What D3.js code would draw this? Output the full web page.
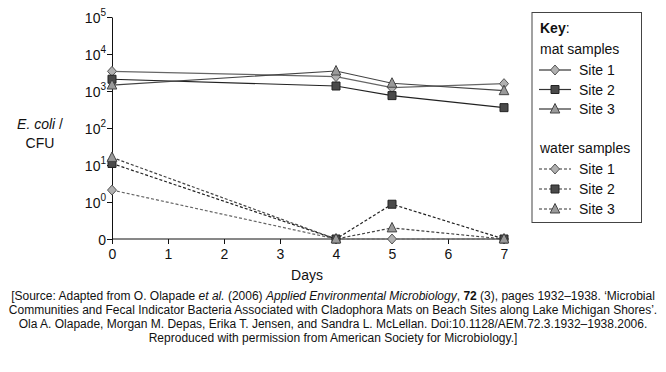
<!DOCTYPE html>
<html>
<head>
<meta charset="utf-8">
<script src="https://cdn.jsdelivr.net/npm/d3@7"></script>
<style>
  body { margin: 0; background: #fff; }
  svg text { font-family: "Liberation Sans", Arial, sans-serif; fill: #111; }
</style>
</head>
<body>
<div id="chart"></div>
<script>
const width = 666;
const height = 372;

// Days sampled
const days = [0, 4, 5, 7];

// E. coli CFU values (0 = none detected)
const matSite1 = [3400, 2450, 1230, 1580];
const matSite2 = [2080, 1365, 750, 355];
const matSite3 = [1450, 3470, 1620, 1020];
const waterSite1 = [2.1, 0, 0, 0];
const waterSite2 = [11, 0, 0.94, 0];
const waterSite3 = [16, 0, 0.3, 0];

const yTickExp = [null, 0, 1, 2, 3, 4, 5];   // null is the "0" tick
const xTicks = [0, 1, 2, 3, 4, 5, 6, 7];

const series = [
  { name: "Site 1", group: "mat", values: matSite1, shape: "diamond" },
  { name: "Site 2", group: "mat", values: matSite2, shape: "square" },
  { name: "Site 3", group: "mat", values: matSite3, shape: "triangle" },
  { name: "Site 1", group: "water", values: waterSite1, shape: "diamond" },
  { name: "Site 2", group: "water", values: waterSite2, shape: "square" },
  { name: "Site 3", group: "water", values: waterSite3, shape: "triangle" }
];

const styles = {
  diamond: { fill: "#b0b0b0", stroke: "#555", line: "#666" },
  square: { fill: "#4a4a4a", stroke: "#222", line: "#222" },
  triangle: { fill: "#9a9a9a", stroke: "#444", line: "#444" }
};

const margin = { left: 112, top: 17, plotRight: 504, bottom: 239 };

const svg = d3.select("#chart").append("svg")
  .attr("width", width)
  .attr("height", height);

const xScale = d3.scaleLinear().domain([0, 7]).range([margin.left, margin.plotRight]);
// axis position units: 0 -> "0", 1 -> 10^0, ... 6 -> 10^5
const yScale = d3.scaleLinear().domain([0, 6]).range([margin.bottom, margin.top]);
const pos = v => v <= 0 ? 0 : (v < 1 ? v : Math.log10(v) + 1);

// y axis
const yAxis = svg.append("g")
  .attr("transform", `translate(${margin.left},0)`)
  .call(d3.axisLeft(yScale).tickValues(d3.range(7)).tickSize(5).tickSizeOuter(0).tickFormat(""));
yAxis.select(".domain").attr("stroke", "#111");
yAxis.selectAll(".tick line").attr("stroke", "#111");
yAxis.selectAll(".tick").each(function (d) {
  const t = d3.select(this).append("text")
    .attr("x", -6).attr("y", 5)
    .attr("text-anchor", "end")
    .style("font-size", "14px");
  const e = yTickExp[d];
  if (e === null) {
    t.text("0");
  } else {
    t.append("tspan").text("10");
    t.append("tspan").attr("dy", -7).style("font-size", "10px").text(e);
  }
});

// x axis
const xAxis = svg.append("g")
  .attr("transform", `translate(0,${margin.bottom})`)
  .call(d3.axisBottom(xScale).tickValues(xTicks).tickSize(5).tickSizeOuter(0).tickFormat(d3.format("d")));
xAxis.select(".domain").attr("stroke", "#111").attr("d", `M${margin.left},0H${margin.plotRight + 3}`);
xAxis.selectAll(".tick line").attr("stroke", "#111");
xAxis.selectAll(".tick text")
  .attr("y", 10)
  .style("font-size", "14px")
  .attr("fill", "#111");

svg.append("text")
  .attr("x", 307).attr("y", 280)
  .attr("text-anchor", "middle")
  .style("font-size", "14px")
  .text("Days");

// y label
const yl = svg.append("text")
  .attr("x", 40).attr("y", 129)
  .attr("text-anchor", "middle")
  .style("font-size", "14px");
yl.append("tspan").style("font-style", "italic").text("E. coli");
yl.append("tspan").text(" /");
svg.append("text")
  .attr("x", 40).attr("y", 148)
  .attr("text-anchor", "middle")
  .style("font-size", "14px")
  .text("CFU");

function symbolPath(shape) {
  if (shape === "diamond") return "M0,-5L4.5,0L0,5L-4.5,0Z";
  if (shape === "square") return "M-4,-4H4V4H-4Z";
  return "M0,-5.5L4.8,4L-4.8,4Z";
}

const line = d3.line()
  .x((d, i) => xScale(days[i]))
  .y(d => yScale(pos(d)));

// draw water series first, then mat
const order = [3, 4, 5, 0, 1, 2];
order.forEach(k => {
  const s = series[k];
  const st = styles[s.shape];
  svg.append("path")
    .datum(s.values)
    .attr("d", line)
    .attr("fill", "none")
    .attr("stroke", st.line)
    .attr("stroke-width", 1.2)
    .attr("stroke-dasharray", s.group === "water" ? "3,2" : null);
});
order.forEach(k => {
  const s = series[k];
  const st = styles[s.shape];
  svg.selectAll(null)
    .data(s.values)
    .enter()
    .append("path")
    .attr("transform", (d, i) => `translate(${xScale(days[i])},${yScale(pos(d))})`)
    .attr("d", symbolPath(s.shape))
    .attr("fill", st.fill)
    .attr("stroke", st.stroke)
    .attr("stroke-width", 1);
});

// legend
const lg = svg.append("g");
lg.append("rect")
  .attr("x", 532).attr("y", 12.5)
  .attr("width", 109.5).attr("height", 210)
  .attr("fill", "#fff")
  .attr("stroke", "#444")
  .attr("stroke-width", 1);
const key = lg.append("text").attr("x", 540).attr("y", 33).style("font-size", "14px");
key.append("tspan").style("font-weight", "bold").text("Key");
key.append("tspan").text(":");
lg.append("text").attr("x", 540).attr("y", 54).style("font-size", "14px").text("mat samples");
lg.append("text").attr("x", 540).attr("y", 153).style("font-size", "14px").text("water samples");

const legendY = [70, 89.5, 109, 169, 189, 209];
series.forEach((s, i) => {
  const st = styles[s.shape];
  const y = legendY[i];
  lg.append("line")
    .attr("x1", 539).attr("x2", 571)
    .attr("y1", y).attr("y2", y)
    .attr("stroke", "#333")
    .attr("stroke-width", 1.2)
    .attr("stroke-dasharray", s.group === "water" ? "3,2" : null);
  lg.append("path")
    .attr("transform", `translate(555,${y})`)
    .attr("d", symbolPath(s.shape))
    .attr("fill", st.fill)
    .attr("stroke", st.stroke);
  lg.append("text")
    .attr("x", 579).attr("y", y + 5)
    .style("font-size", "14px")
    .text(s.name);
});

// source note
const src = svg.append("text")
  .attr("text-anchor", "middle")
  .style("font-size", "12px");
const l1 = src.append("tspan").attr("x", 333).attr("y", 300);
l1.append("tspan").text("[Source: Adapted from O. Olapade ");
l1.append("tspan").style("font-style", "italic").text("et al.");
l1.append("tspan").text(" (2006) ");
l1.append("tspan").style("font-style", "italic").text("Applied Environmental Microbiology");
l1.append("tspan").text(", ");
l1.append("tspan").style("font-weight", "bold").text("72");
l1.append("tspan").text(" (3), pages 1932\u20131938. \u2018Microbial");
src.append("tspan").attr("x", 333).attr("y", 314)
  .text("Communities and Fecal Indicator Bacteria Associated with Cladophora Mats on Beach Sites along Lake Michigan Shores\u2019.");
src.append("tspan").attr("x", 333).attr("y", 328)
  .text("Ola A. Olapade, Morgan M. Depas, Erika T. Jensen, and Sandra L. McLellan. Doi:10.1128/AEM.72.3.1932\u20131938.2006.");
src.append("tspan").attr("x", 333).attr("y", 342)
  .text("Reproduced with permission from American Society for Microbiology.]");
</script>
</body>
</html>
